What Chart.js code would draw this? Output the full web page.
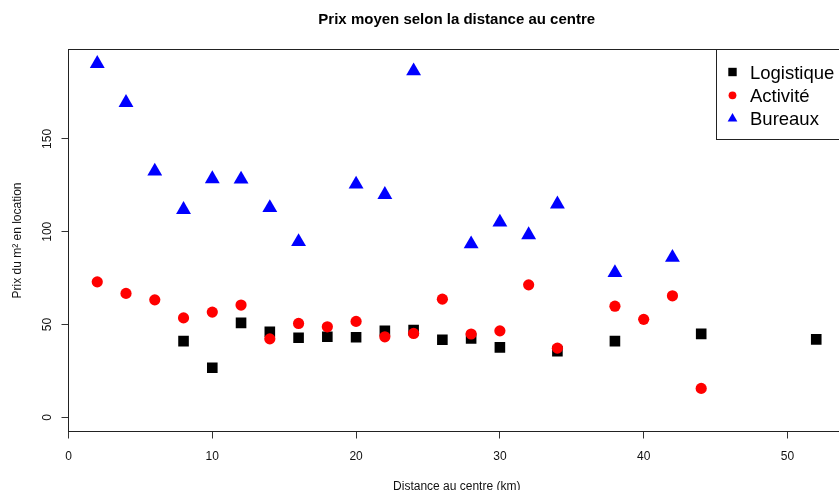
<!DOCTYPE html>
<html>
<head>
<meta charset="utf-8">
<script src="https://cdn.jsdelivr.net/npm/chart.js@4.4.1/dist/chart.umd.min.js"></script>
<style>
  html, body { margin: 0; padding: 0; overflow: hidden; background: #fff; }
  #wrap { width: 845px; height: 496px; }
</style>
</head>
<body>
<div id="wrap"><canvas id="c" width="845" height="496"></canvas></div>
<script>
// données (distance en km, prix en €/m²)
const logiDist = [8, 10, 12, 14, 16, 18, 20, 22, 24, 26, 28, 30, 34, 38, 44, 52];
const logiPrix = [41.1, 26.7, 50.9, 46.1, 42.9, 43.4, 43.2, 46.6, 47.0, 41.8, 42.5, 37.7, 35.7, 41.1, 45.0, 42.0];

const actiDist = [2, 4, 6, 8, 10, 12, 14, 16, 18, 20, 22, 24, 26, 28, 30, 32, 34, 38, 40, 42, 44];
const actiPrix = [73.0, 66.8, 63.3, 53.6, 56.7, 60.5, 42.3, 50.6, 48.8, 51.7, 43.4, 45.2, 63.7, 44.9, 46.6, 71.4, 37.3, 59.9, 52.8, 65.5, 15.6];

const bureDist = [2, 4, 6, 8, 10, 12, 14, 16, 20, 22, 24, 28, 30, 32, 34, 38, 42];
const burePrix = [190.6, 169.6, 132.6, 111.9, 128.5, 128.3, 112.9, 94.6, 125.6, 120.0, 186.6, 93.4, 105.1, 98.3, 114.9, 77.9, 86.1];

const xTicks = [0, 10, 20, 30, 40, 50];
const yTicks = [0, 50, 100, 150];

const seriesNames = ['Logistique', 'Activité', 'Bureaux'];
const seriesColors = ['#000000', '#ff0000', '#0000ff'];

const toPoints = (xs, ys) => xs.map((x, i) => ({ x: x, y: ys[i] }));

Chart.defaults.font.family = '"Liberation Sans", Arial, sans-serif';
Chart.defaults.color = '#111';

// cadre autour de la zone de tracé (comme box() dans R)
const boxPlugin = {
    id: 'box',
    afterDraw(chart) {
        const a = chart.chartArea;
        const ctx = chart.ctx;
        ctx.save();
        ctx.strokeStyle = '#222';
        ctx.lineWidth = 1;
        ctx.strokeRect(a.left, a.top, a.right - a.left, a.bottom - a.top);
        ctx.restore();
    }
};

// légende "topright" à la R
const legendPlugin = {
    id: 'rLegend',
    afterDraw(chart) {
        const a = chart.chartArea;
        const ctx = chart.ctx;
        const left = 716.5, bottom = 139.5;
        ctx.save();
        ctx.fillStyle = '#fff';
        ctx.fillRect(left, a.top, a.right - left, bottom - a.top);
        ctx.strokeStyle = '#222';
        ctx.lineWidth = 1;
        ctx.strokeRect(left, a.top, a.right - left, bottom - a.top);

        const mx = 732.5;
        const rows = [72, 95.3, 118.6];
        ctx.font = '18.5px "Liberation Sans", Arial, sans-serif';
        ctx.textBaseline = 'middle';
        ctx.textAlign = 'left';
        rows.forEach((y, i) => {
            ctx.fillStyle = seriesColors[i];
            ctx.beginPath();
            if (i === 0) {
                ctx.rect(mx - 4.2, y - 4.2, 8.4, 8.4);
            } else if (i === 1) {
                ctx.arc(mx, y, 3.9, 0, Math.PI * 2);
            } else {
                const r = 5.6;
                ctx.moveTo(mx, y - r);
                ctx.lineTo(mx + r * Math.sin(Math.PI * 2 / 3), y + r / 2);
                ctx.lineTo(mx - r * Math.sin(Math.PI * 2 / 3), y + r / 2);
                ctx.closePath();
            }
            ctx.fill();
            ctx.fillStyle = '#000';
            ctx.fillText(seriesNames[i], 750, y + 1.6);
        });
        ctx.restore();
    }
};

new Chart(document.getElementById('c'), {
    type: 'scatter',
    data: {
        datasets: [
            {
                label: seriesNames[0],
                data: toPoints(logiDist, logiPrix),
                pointStyle: 'rect',
                pointRadius: 7.5,
                backgroundColor: seriesColors[0],
                borderWidth: 0,
                order: 3
            },
            {
                label: seriesNames[1],
                data: toPoints(actiDist, actiPrix),
                pointStyle: 'circle',
                pointRadius: 5.6,
                backgroundColor: seriesColors[1],
                borderWidth: 0,
                order: 2
            },
            {
                label: seriesNames[2],
                data: toPoints(bureDist, burePrix),
                pointStyle: 'triangle',
                pointRadius: 8.6,
                backgroundColor: seriesColors[2],
                borderWidth: 0,
                order: 1
            }
        ]
    },
    options: {
        responsive: false,
        animation: false,
        events: [],
        layout: { padding: 0, autoPadding: false },
        plugins: {
            legend: { display: false },
            tooltip: { enabled: false },
            title: {
                display: true,
                text: 'Prix moyen selon la distance au centre',
                fullSize: false,
                color: '#000',
                font: { size: 15, weight: 'bold' },
                padding: { top: 10.5, bottom: 21 }
            }
        },
        scales: {
            x: {
                type: 'linear',
                min: 0,
                max: 54,
                afterBuildTicks: s => { s.ticks = xTicks.map(v => ({ value: v })); },
                afterFit: s => { s.height = 64.5; },
                border: { display: false },
                grid: { drawOnChartArea: false, drawTicks: true, tickLength: 7, color: '#333' },
                ticks: { font: { size: 12 }, padding: 10.9, maxRotation: 0, color: '#111' },
                title: {
                    display: true,
                    text: 'Distance au centre (km)',
                    font: { size: 12 },
                    color: '#111',
                    padding: { top: 0, bottom: 1.8 }
                }
            },
            y: {
                type: 'linear',
                min: -7.62,
                max: 198.2,
                afterBuildTicks: s => { s.ticks = yTicks.map(v => ({ value: v })); },
                afterFit: s => { s.width = 68.5; },
                border: { display: false },
                grid: { drawOnChartArea: false, drawTicks: true, tickLength: 7, color: '#333' },
                ticks: {
                    font: { size: 12 },
                    minRotation: 90,
                    maxRotation: 90,
                    crossAlign: 'center',
                    padding: 4.2,
                    color: '#111'
                },
                title: {
                    display: true,
                    text: 'Prix du m² en location',
                    font: { size: 12 },
                    color: '#111',
                    padding: { top: 10.9, bottom: 0 }
                }
            }
        }
    },
    plugins: [boxPlugin, legendPlugin]
});
</script>
</body>
</html>
